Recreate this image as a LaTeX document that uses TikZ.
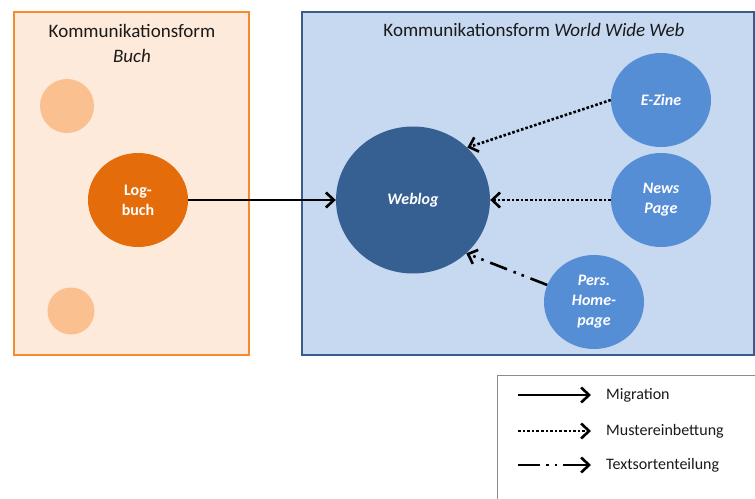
\documentclass[tikz,border=0pt]{standalone}
\usepackage{fontspec}
\setmainfont{Carlito}
\usetikzlibrary{arrows.meta,positioning,shapes.geometric}
\definecolor{BookLine}{HTML}{F58A2E}
\definecolor{BookFill}{HTML}{FDEADA}
\definecolor{BookDot}{HTML}{FAC090}
\definecolor{BookMain}{HTML}{E46C0A}
\definecolor{WebLine}{HTML}{385D8A}
\definecolor{WebFill}{HTML}{C6D9F1}
\definecolor{WebMain}{HTML}{376092}
\definecolor{WebDot}{HTML}{558ED5}
\definecolor{Ink}{HTML}{1A1A1A}
\definecolor{LegLine}{HTML}{8C8C8C}

\begin{document}
\begin{tikzpicture}[
  x=1pt,y=-1pt,
  every node/.style={font=\fontsize{16}{20}\selectfont,text=Ink},
  bookbox/.style={draw=BookLine,line width=2pt,fill=BookFill},
  webbox/.style={draw=WebLine,line width=2pt,fill=WebFill},
  legbox/.style={draw=LegLine,line width=1pt,fill=white},
  title/.style={font=\fontsize{19}{25}\selectfont,align=center},
  blob/.style={ellipse,inner sep=0pt,minimum width=100,minimum height=94,align=center,text=white,font=\fontsize{16}{20}\selectfont\bfseries\itshape},
  mig/.style={line width=2.6pt,-{Straight Barb[length=8pt,width=15pt]}},
  muster/.style={line width=2.6pt,dash pattern=on 2.6pt off 2pt,-{Straight Barb[length=8pt,width=15pt]}},
  teil/.style={line width=2.6pt,dash pattern=on 18pt off 7pt on 2.6pt off 6pt on 2.6pt off 7pt,-{Straight Barb[length=8pt,width=15pt]}},
  legtext/.style={anchor=west,inner sep=0pt}
]
\useasboundingbox (0,0) rectangle (755,498);
% frames
\node[bookbox,minimum width=235,minimum height=343] (buch) at (131.5,183.5) {};
\node[webbox,minimum width=452,minimum height=343] (www) at (528,183.5) {};
\node[title] (buchtitle) at (132,43) {Kommunikationsform\\\textit{Buch}};
\node[title] (wwwtitle) at (534,30) {Kommunikationsform \textit{World Wide Web}};
% book side
\node[blob,fill=BookDot,minimum width=54,minimum height=54] (dotA) at (67,106) {};
\node[blob,fill=BookDot,minimum width=47,minimum height=47] (dotB) at (71,311) {};
\node[blob,fill=BookMain,font=\fontsize{16}{20}\selectfont\bfseries] (logbuch) at (138,200) {Log-\\buch};
% web side
\node[blob,fill=WebMain,minimum width=154,minimum height=147] (weblog) at (413,200) {Weblog};
\node[blob,fill=WebDot] (ezine) at (661,100) {E-Zine};
\node[blob,fill=WebDot] (news) at (661,200) {News\\Page};
\node[blob,fill=WebDot] (homepage) at (594,302) {Pers.\\Home-\\page};
\draw[mig] (logbuch.east) -- (weblog.west);
\draw[muster] (ezine.west) -- (weblog.44);
\draw[muster] (news.west) -- (weblog.east);
\draw[teil] (homepage.160) -- (weblog.-45);
% legend
\node[legbox,minimum width=268,minimum height=135] (legend) at (631,442.5) {};
\coordinate (migA) at (518,395);
\coordinate (migB) at (591,395);
\node[legtext] (migtxt) at (606,395) {Migration};
\coordinate (musA) at (518,431);
\coordinate (musB) at (591,431);
\node[legtext] (mustxt) at (606,431) {Mustereinbettung};
\coordinate (teilA) at (518,465);
\coordinate (teilB) at (591,465);
\node[legtext] (teiltxt) at (606,465) {Textsortenteilung};
\draw[mig] (migA) -- (migB);
\draw[muster] (musA) -- (musB);
\draw[teil,dash pattern=on 22pt off 6pt on 2.6pt off 6pt on 2.6pt off 6pt on 40pt] (teilA) -- (teilB);
\end{tikzpicture}
\end{document}
